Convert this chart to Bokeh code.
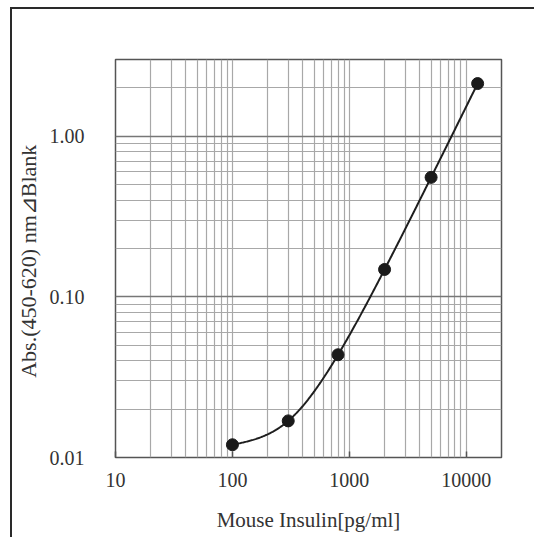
import numpy as np
from bokeh.plotting import figure
from bokeh.models import FixedTicker, PrintfTickFormatter, Range1d
from bokeh.embed import file_html
from bokeh.resources import INLINE

# data
insulin = [100, 300, 800, 2000, 5000, 12500]          # pg/ml
absorbance = [0.0120, 0.0169, 0.0436, 0.148, 0.554, 2.125]

x_major = [10, 100, 1000, 10000]
y_major = [0.01, 0.1, 1.0]
x_label = "Mouse Insulin[pg/ml]"
y_label = "Abs.(450-620)  nm\u22bfBlank"

# minor ticks at 2..9 within each decade
x_minor = [m * d for d in [10, 100, 1000, 10000] for m in range(2, 10)]
y_minor = [m * d for d in [0.01, 0.1, 1.0] for m in range(2, 10)]


def natural_spline(xs, ys, xq):
    xs = np.asarray(xs, float)
    ys = np.asarray(ys, float)
    n = len(xs)
    h = np.diff(xs)
    A = np.zeros((n, n))
    b = np.zeros(n)
    A[0, 0] = 1.0
    A[-1, -1] = 1.0
    for i in range(1, n - 1):
        A[i, i - 1] = h[i - 1]
        A[i, i] = 2 * (h[i - 1] + h[i])
        A[i, i + 1] = h[i]
        b[i] = 6 * ((ys[i + 1] - ys[i]) / h[i] - (ys[i] - ys[i - 1]) / h[i - 1])
    M = np.linalg.solve(A, b)
    out = []
    for x in xq:
        i = min(max(np.searchsorted(xs, x) - 1, 0), n - 2)
        t1 = xs[i + 1] - x
        t0 = x - xs[i]
        hi = h[i]
        v = (M[i] * t1 ** 3 + M[i + 1] * t0 ** 3) / (6 * hi) \
            + (ys[i] / hi - M[i] * hi / 6) * t1 \
            + (ys[i + 1] / hi - M[i + 1] * hi / 6) * t0
        out.append(v)
    return np.array(out)


lx = np.log10(insulin)
ly = np.log10(absorbance)
lq = np.linspace(lx[0], lx[-1], 300)
curve_x = 10 ** lq
curve_y = 10 ** natural_spline(lx, ly, lq)

FONT = "Liberation Serif"

p = figure(width=524, height=530, x_axis_type="log", y_axis_type="log",
           x_range=Range1d(10, 20000), y_range=Range1d(0.01, 3.0),
           output_backend="svg", toolbar_location=None,
           min_border_left=103, min_border_right=35,
           min_border_top=50, min_border_bottom=82,
           styles={"margin-left": "10px", "margin-top": "7px",
                   "border-top": "2px solid #2a2a2a",
                   "border-left": "2px solid #2a2a2a"})

p.outline_line_color = "#555555"
p.outline_line_width = 1.5

p.xaxis.ticker = FixedTicker(ticks=x_major, minor_ticks=x_minor)
p.yaxis.ticker = FixedTicker(ticks=y_major, minor_ticks=y_minor)
p.xaxis.formatter = PrintfTickFormatter(format="%d")
p.yaxis.formatter = PrintfTickFormatter(format="%.2f")

for ax in (p.xaxis, p.yaxis):
    ax.axis_line_color = None
    ax.minor_tick_line_color = None
    ax.major_label_text_font = FONT
    ax.major_label_text_font_size = "20px"
    ax.major_label_text_color = "#333333"
    ax.axis_label_text_font = FONT
    ax.axis_label_text_font_size = "21px"
    ax.axis_label_text_font_style = "normal"
    ax.axis_label_text_color = "#333333"

p.yaxis.axis_label_text_font_size = "22px"

p.xaxis.major_tick_in = 6
p.xaxis.major_tick_out = 0
p.xaxis.major_tick_line_color = "#555555"
p.xaxis.major_tick_line_width = 1.5
p.xaxis.major_label_standoff = 11
p.xaxis.axis_label_standoff = 18
p.xaxis.axis_label = x_label

p.yaxis.major_tick_line_color = None
p.yaxis.major_label_standoff = 25
p.yaxis.axis_label_standoff = 6
p.yaxis.axis_label = y_label

p.xgrid.grid_line_color = "#a8a8a8"
p.xgrid.grid_line_width = 1.2
p.xgrid.minor_grid_line_color = "#a8a8a8"
p.xgrid.minor_grid_line_width = 1.2
p.ygrid.grid_line_color = "#777777"
p.ygrid.grid_line_width = 1.5
p.ygrid.minor_grid_line_color = "#a8a8a8"
p.ygrid.minor_grid_line_width = 1.2

p.line(curve_x, curve_y, line_color="#1e1e1e", line_width=2)
p.scatter(insulin, absorbance, size=12, fill_color="#1a1a1a", line_color="#1a1a1a")

open("out.html", "w").write(file_html(p, INLINE))
